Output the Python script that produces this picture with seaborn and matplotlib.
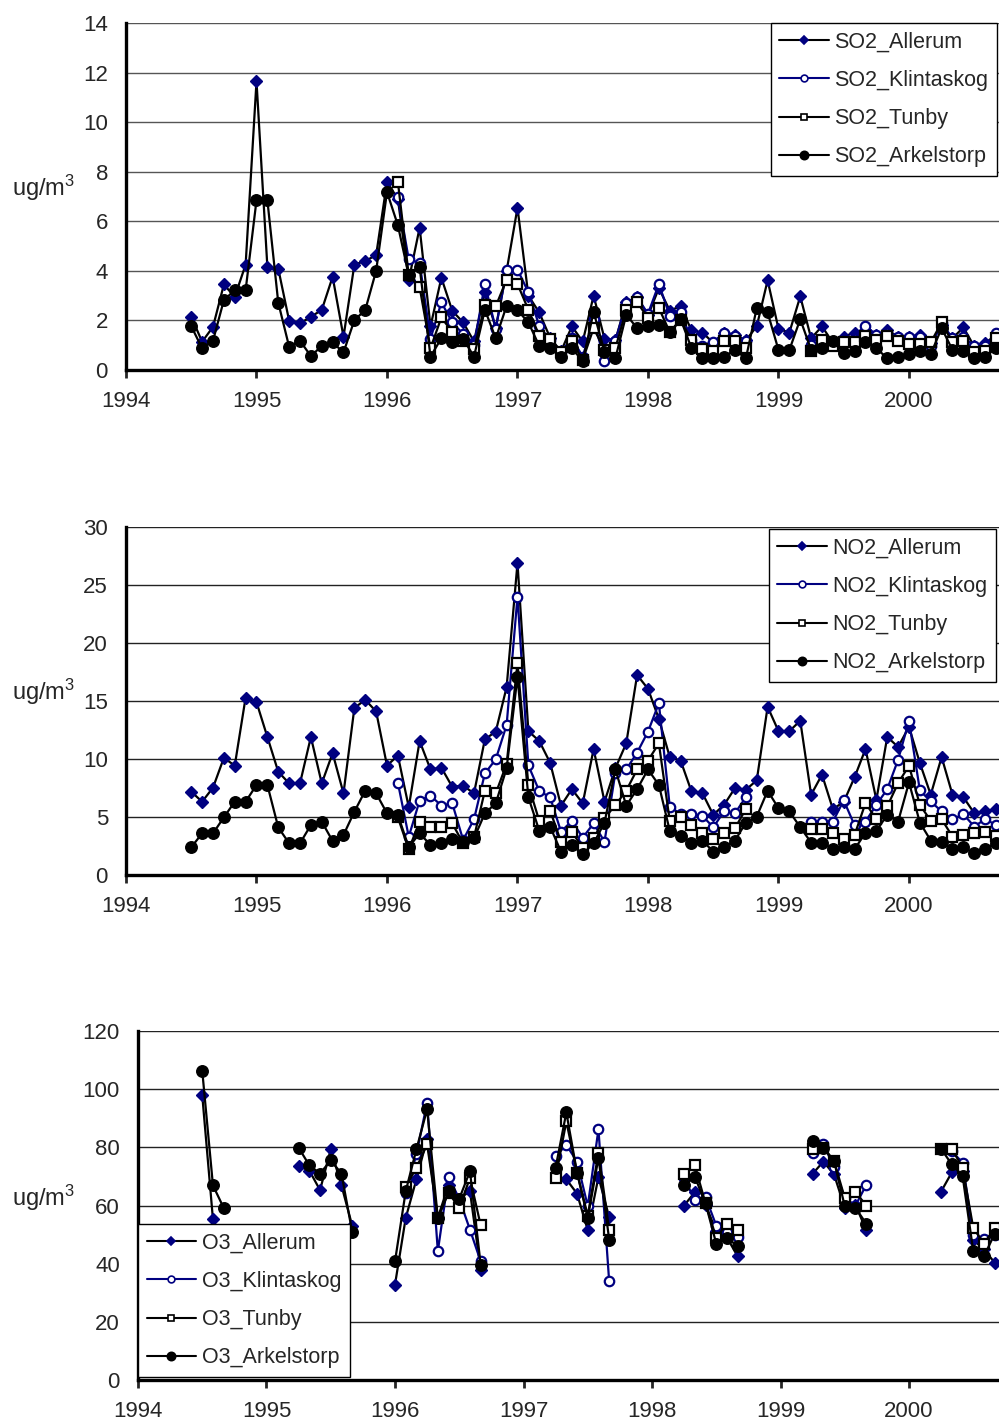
import numpy as np
import pandas as pd
import matplotlib
matplotlib.use('Agg')
import matplotlib.pyplot as plt
from matplotlib.lines import Line2D
import seaborn as sns

# monthly axis Jul 1994 .. Sep 2000
months = pd.period_range('1994-07', '2000-09', freq='M')
stations = ['Allerum', 'Klintaskog', 'Tunby', 'Arkelstorp']
N = None

# ---------------- SO2 ----------------
so2_allerum = [2.15, 1.14, 1.74, 3.45, 2.95, 4.25,
               11.65, 4.16, 4.09, 1.99, 1.88, 2.15, 2.42, 3.76, 1.34, 4.25, 4.4, 4.63,
               7.59, 6.9, 3.62, 5.74, 1.76, 3.72, 2.39, 1.92, 1.15, 3.14, 1.7, 4.0,
               6.55, 3.0, 2.32, 1.3, 0.75, 1.76, 1.15, 3.0, 1.26, 1.2, 2.73, 2.95,
               2.2, 3.3, 2.4, 2.57, 1.6, 1.51, 1.1, 1.5, 1.4, 1.2, 1.76, 3.62,
               1.66, 1.51, 2.97, 1.28, 1.76, 1.1, 1.35, 1.51, 1.6, 1.42, 1.6, 1.35,
               1.35, 1.42, 1.08, 1.8, 1.28, 1.72, 0.95, 1.08, 1.42]
so2_klintaskog = [N] * 19 + [
               6.99, 4.46, 4.32, 1.26, 2.73, 1.92, 1.45, 1.0, 3.47, 1.66, 4.05,
               4.05, 3.14, 1.78, 1.2, 0.74, 1.28, 0.54, 2.05, 0.38, 1.18, 2.7, 2.93,
               2.27, 3.47, 2.19, 2.32, 1.22, 0.95, 1.11, 1.51, 1.38, 1.15] + [N] * 5 + [
               1.0, 1.2, 1.11, 1.11, 1.26, 1.78, 1.42, 1.5, 1.35,
               1.35, 1.35, 0.95, 1.9, 1.28, 1.35, 0.95, 0.95, 1.49]
so2_tunby = [N] * 19 + [
               7.6, 3.82, 3.34, 0.88, 2.12, 1.53, 1.18, 0.84, 2.61, 2.57, 3.65,
               3.47, 2.43, 1.39, 1.26, 0.74, 1.15, 0.41, 1.69, 0.81, 0.88, 2.43, 2.74,
               2.09, 2.5, 1.53, 2.0, 1.22, 0.84, 0.78, 1.15, 1.15, 0.9] + [N] * 5 + [
               0.78, 1.22, 0.95, 1.11, 1.11, 1.39, 1.22, 1.39, 1.15,
               1.05, 1.05, 1.11, 1.92, 1.11, 1.15, 0.74, 0.78, 1.28]
so2_arkelstorp = [1.77, 0.87, 1.18, 2.82, 3.22, 3.22,
               6.85, 6.85, 2.72, 0.94, 1.18, 0.56, 0.97, 1.11, 0.71, 2.01, 2.42, 4.0,
               7.18, 5.84, 3.82, 4.15, 0.54, 1.28, 1.11, 1.26, 0.54, 2.43, 1.28, 2.59,
               2.41, 1.92, 0.97, 0.9, 0.54, 0.88, 0.36, 2.34, 0.74, 0.47, 2.23, 1.69,
               1.76, 1.8, 1.52, 2.05, 0.88, 0.47, 0.47, 0.54, 0.81, 0.47, 2.5, 2.32,
               0.81, 0.81, 2.05, 0.81, 0.88, 1.15, 0.7, 0.78, 1.11, 0.88, 0.47, 0.54,
               0.64, 0.78, 0.64, 1.69, 0.81, 0.78, 0.47, 0.54, 0.88]

# ---------------- NO2 ----------------
no2_allerum = [7.18, 6.32, 7.53, 10.1, 9.43, 15.3,
               14.9, 11.9, 8.9, 7.9, 7.9, 11.9, 7.9, 10.5, 7.04, 14.4, 15.1, 14.1,
               9.43, 10.3, 5.85, 11.55, 9.1, 9.25, 7.6, 7.7, 7.04, 11.7, 12.36, 16.2,
               26.9, 12.4, 11.55, 9.68, 5.98, 7.4, 6.18, 10.86, 6.32, 9.2, 11.35, 17.24,
               16.05, 13.46, 10.17, 9.86, 7.2, 7.06, 5.19, 6.05, 7.5, 7.35, 8.16, 14.5,
               12.4, 12.4, 13.3, 6.92, 8.65, 5.68, 6.3, 8.44, 10.86, 6.48, 11.9, 11.04,
               12.77, 9.65, 6.92, 10.17, 6.92, 6.71, 5.33, 5.48, 5.7]
no2_klintaskog = [N] * 19 + [
               7.96, 3.3, 6.41, 6.84, 5.98, 6.18, 3.02, 4.8, 8.76, 9.97, 12.93,
               24.0, 9.45, 7.24, 6.7, 3.74, 4.66, 3.22, 4.45, 2.87, 8.82, 9.1, 10.55,
               12.36, 14.8, 5.9, 5.26, 5.27, 5.1, 4.12, 5.48, 5.33, 6.71] + [N] * 5 + [
               4.61, 4.61, 4.61, 6.43, 4.27, 4.61, 6.05, 7.4, 9.94,
               13.3, 7.29, 6.34, 5.48, 4.81, 5.24, 4.18, 4.81, 4.32]
no2_tunby = [N] * 19 + [
               4.97, 2.2, 4.6, 4.17, 4.17, 4.45, 2.73, 3.25, 7.27, 7.04, 9.57,
               18.25, 7.76, 4.66, 5.55, 2.87, 3.74, 2.3, 3.16, 4.89, 6.03, 7.27, 9.1,
               9.86, 11.35, 4.66, 5.03, 4.32, 3.6, 3.08, 3.66, 4.03, 5.7] + [N] * 5 + [
               3.95, 3.95, 3.6, 3.08, 3.46, 6.2, 4.81, 5.91, 7.93,
               9.42, 6.05, 4.67, 4.81, 3.31, 3.46, 3.6, 3.75, 3.37]
no2_arkelstorp = [2.39, 3.59, 3.59, 4.97, 6.32, 6.32,
               7.76, 7.76, 4.11, 2.73, 2.73, 4.31, 4.6, 2.93, 3.45, 5.46, 7.27, 7.04,
               5.32, 5.17, 2.4, 3.59, 2.59, 2.73, 3.1, 2.87, 3.16, 5.32, 6.18, 9.2,
               17.1, 6.7, 3.82, 4.17, 2.01, 2.59, 1.81, 2.73, 4.51, 9.1, 5.98, 7.4,
               9.1, 7.76, 3.82, 3.39, 2.8, 2.97, 2.02, 2.39, 2.97, 4.52, 5.04, 7.26,
               5.76, 5.48, 4.12, 2.8, 2.8, 2.22, 2.39, 2.22, 3.66, 3.8, 5.19, 4.61,
               7.98, 4.52, 2.97, 2.88, 2.22, 2.39, 1.87, 2.22, 2.8]

# ---------------- O3 (summer seasons only) ----------------
o3_allerum = [97.9, 55.2, N, N, N, N,
              N, N, N, 73.6, 72.0, 65.3, 79.3, 66.9, 53.1, N, N, N,
              32.8, 55.7, 69.0, 83.0, 55.7, 67.2, 62.3, 64.9, 37.9, N, N, N,
              N, N, N, N, 69.0, 64.1, 51.5, 69.8, 56.0, N, N, N,
              N, N, N, 60.0, 64.6, 60.3, 51.1, 49.0, 42.5, N, N, N,
              N, N, N, 70.9, 75.1, 70.7, 59.2, 60.3, 51.5, N, N, N,
              N, N, N, 64.8, 71.4, 72.0, 48.1, 45.0, 40.3]
o3_klintaskog = [N] * 18 + [
              N, 64.4, 77.6, 95.4, 44.3, 69.9, 62.3, 51.7, 40.8, N, N, N,
              N, N, N, 77.0, 80.8, 75.1, 59.8, 86.2, 33.9, N, N, N,
              N, N, N, 69.5, 61.8, 62.9, 53.1, 51.0, 49.2, N, N, N,
              N, N, N, 77.9, 81.0, 73.3, 62.6, 60.0, 67.0, N, N, N,
              N, N, N, 79.3, 78.7, 74.7, 50.0, 48.5, 50.0]
o3_tunby = [N] * 18 + [
              N, 66.4, 73.0, 81.0, 55.7, 64.4, 59.2, 69.5, 53.2, N, N, N,
              N, N, N, 69.6, 88.9, 71.3, 56.5, 78.1, 51.6, N, N, N,
              N, N, N, 70.9, 73.8, 60.7, 48.9, 53.8, 51.5, N, N, N,
              N, N, N, 79.3, 79.9, 75.3, 62.6, 64.7, 60.0, N, N, N,
              N, N, N, 79.5, 79.5, 73.0, 52.3, 46.9, 52.3]
o3_arkelstorp = [106.3, 66.9, 59.2, N, N, N,
              N, N, N, 79.9, 73.8, 71.0, 75.5, 71.0, 50.9, N, N, N,
              40.8, 64.9, 79.3, 93.1, 55.7, 64.9, 62.3, 71.8, 39.7, N, N, N,
              N, N, N, 73.0, 92.0, 71.3, 55.7, 76.4, 48.3, N, N, N,
              N, N, N, 66.9, 69.9, 60.7, 46.9, 48.9, 46.0, N, N, N,
              N, N, N, 82.2, 79.9, 75.3, 59.8, 59.2, 53.8, N, N, N,
              N, N, N, 79.5, 74.1, 70.3, 44.3, 42.5, 50.3]

sns.set_style('white')
plt.rcParams['font.family'] = ['Liberation Sans', 'DejaVu Sans']
plt.rcParams['mathtext.default'] = 'regular'

NAVY = '#000080'
styles = {
    'Allerum':    dict(color='black', marker='D', markerfacecolor=NAVY, markeredgecolor=NAVY,
                       markersize=6.3, markeredgewidth=1),
    'Klintaskog': dict(color=NAVY, marker='o', markerfacecolor='white', markeredgecolor=NAVY,
                       markersize=6.8, markeredgewidth=1.6),
    'Tunby':      dict(color='black', marker='s', markerfacecolor='white', markeredgecolor='black',
                       markersize=6.8, markeredgewidth=1.6),
    'Arkelstorp': dict(color='black', marker='o', markerfacecolor='black', markeredgecolor='black',
                       markersize=8.3, markeredgewidth=1),
}

# fractional year of each month (Excel date axis)
xyear = months.year + (months.month - 1) / 12

W, H = 999, 1423
fig = plt.figure(figsize=(W / 100, H / 100), dpi=100)


def make_ax(left, top, bottom, ymax, ystep, xright, gridcol):
    ax = fig.add_axes([left / W, 1 - bottom / H, 1 - left / W, (bottom - top) / H])
    ax.set_xlim(1994, xright)
    ax.set_ylim(0, ymax)
    ax.set_yticks(np.arange(0, ymax + 0.01, ystep))
    ax.set_xticks(range(1994, 2001))
    ax.grid(axis='y', color=gridcol, lw=1.0)
    ax.grid(axis='x', visible=False)
    for s in ['top', 'right']:
        ax.spines[s].set_visible(False)
    for s in ['left', 'bottom']:
        ax.spines[s].set_linewidth(2.4)
        ax.spines[s].set_color('black')
    ax.tick_params(axis='x', direction='out', length=6, width=2, pad=9, labelsize=16, bottom=True)
    ax.tick_params(axis='y', length=0, pad=13, labelsize=16)
    ax.set_axisbelow(True)
    return ax


def draw(ax, values, name):
    d = pd.DataFrame({'x': xyear, 'y': pd.to_numeric(pd.Series(values), errors='coerce')})
    d['seg'] = d['y'].isna().cumsum()
    d = d.dropna()
    sns.lineplot(data=d, x='x', y='y', units='seg', estimator=None, ax=ax,
                 lw=1.6, legend=False, **styles[name])
    ax.set_xlabel('')
    ax.set_ylabel('')


def add_legend(prefix, loc, anchor):
    handles = []
    for n in stations:
        st = dict(styles[n])
        st['markersize'] = st['markersize'] * 0.72
        st['markeredgewidth'] = 1.2
        handles.append(Line2D([], [], lw=1.5, **st))
    leg = fig.legend(handles, [f'{prefix}_{n}' for n in stations], loc=loc,
                     bbox_to_anchor=anchor, bbox_transform=fig.transFigure,
                     frameon=True, fancybox=False, framealpha=1, edgecolor='black',
                     fontsize=15.5, handlelength=2.3, handletextpad=0.25,
                     labelspacing=0.8, borderpad=0.4, borderaxespad=0)
    leg.get_frame().set_linewidth(1.0)
    return leg


panels = [
    ('SO2', [so2_allerum, so2_klintaskog, so2_tunby, so2_arkelstorp],
     dict(left=126, top=23, bottom=370, ymax=14, ystep=2, xright=2000 + 90 / 130.5, gridcol='#555555')),
    ('NO2', [no2_allerum, no2_klintaskog, no2_tunby, no2_arkelstorp],
     dict(left=126, top=527, bottom=875, ymax=30, ystep=5, xright=2000 + 90 / 130.5, gridcol='#222222')),
    ('O3', [o3_allerum, o3_klintaskog, o3_tunby, o3_arkelstorp],
     dict(left=138, top=1031, bottom=1380, ymax=120, ystep=20, xright=2000 + 90 / 128.5, gridcol='#222222')),
]

ylab_y = [188, 692, 1198]
for (prefix, series, geo), ly in zip(panels, ylab_y):
    ax = make_ax(**geo)
    for name, vals in zip(stations, series):
        draw(ax, vals, name)
    fig.text(12 / W, 1 - ly / H, 'ug/m$^{3}$', fontsize=17, va='center', ha='left')

add_legend('SO2', 'upper right', (997 / W, 1 - 23 / H))
add_legend('NO2', 'upper right', (996 / W, 1 - 529 / H))
add_legend('O3', 'lower left', (138 / W, 1 - 1377 / H))

fig.savefig('out.png', dpi=100)
